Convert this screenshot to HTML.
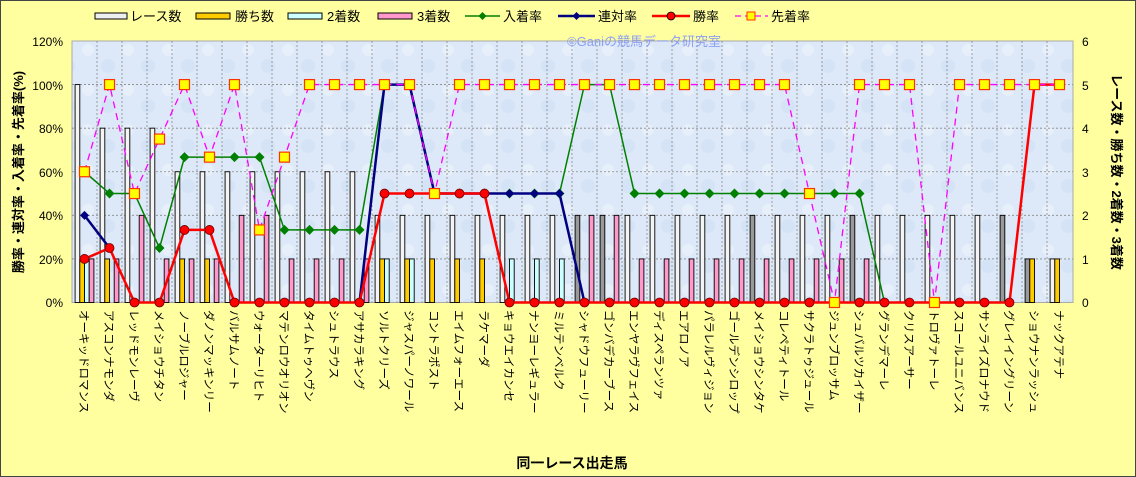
<!DOCTYPE html>
<html><head><meta charset="utf-8"><style>
html,body{margin:0;padding:0;background:#ffffa0}
svg{display:block;font-family:"Liberation Sans","Noto Sans CJK JP",sans-serif}
</style></head><body>
<svg id="s" width="1136" height="477" viewBox="0 0 1136 477" xmlns="http://www.w3.org/2000/svg">
<defs>
<pattern id="tex" width="40" height="40" patternUnits="userSpaceOnUse">
<rect width="40" height="40" fill="#dde9f8"/>
<circle cx="8" cy="10" r="6" fill="#e6effa"/><circle cx="28" cy="26" r="7" fill="#d4e3f5"/>
</pattern>
</defs>
<rect x="0.5" y="0.5" width="1135" height="476" fill="#ffffa0" stroke="#444" stroke-width="1"/>
<rect x="72" y="41" width="1001" height="261.5" fill="url(#tex)" stroke="#aaa"/>
<g id="grid"></g>
<g id="bars"></g>
<g id="lines"></g>
<text x="567" y="46" font-size="13" fill="#8d9ff2">©Ganiの競馬データ研究室</text>
<g font-size="13" fill="#000">
<rect x="95" y="13" width="32" height="6" fill="#eee" stroke="#000"/><text x="130" y="21">レース数</text>
<rect x="196" y="13" width="34" height="6" fill="#ffcc00" stroke="#000"/><text x="235" y="21">勝ち数</text>
<rect x="288" y="13" width="34" height="6" fill="#ccffff" stroke="#000"/><text x="327" y="21">2着数</text>
<rect x="378" y="13" width="34" height="6" fill="#ff99cc" stroke="#000"/><text x="417" y="21">3着数</text>
<line x1="465" y1="16" x2="500" y2="16" stroke="#008000" stroke-width="1.5"/><path d="M482.5 12 L486.5 16 L482.5 20 L478.5 16Z" fill="#008000"/><text x="503" y="21">入着率</text>
<line x1="558" y1="16" x2="595" y2="16" stroke="#000080" stroke-width="2.5"/><path d="M576.5 12 L580.5 16 L576.5 20 L572.5 16Z" fill="#000080"/><text x="598" y="21">連対率</text>
<line x1="652" y1="16" x2="690" y2="16" stroke="#ff0000" stroke-width="2.5"/><circle cx="671" cy="16" r="4" fill="#ff0000" stroke="#000" stroke-width="0.8"/><text x="693" y="21">勝率</text>
<line x1="735" y1="16" x2="768" y2="16" stroke="#ff00ff" stroke-width="1.2" stroke-dasharray="6,4"/><rect x="747" y="12" width="8" height="8" fill="#ffff00" stroke="#ff3300"/><text x="771" y="21">先着率</text>
</g>
<g font-size="12" text-anchor="end">
<text x="63" y="46">120%</text><text x="63" y="90">100%</text><text x="63" y="133">80%</text><text x="63" y="177">60%</text><text x="63" y="220">40%</text><text x="63" y="264">20%</text><text x="63" y="307">0%</text>
</g>
<g font-size="12">
<text x="1082" y="46">6</text><text x="1082" y="90">5</text><text x="1082" y="133">4</text><text x="1082" y="177">3</text><text x="1082" y="220">2</text><text x="1082" y="264">1</text><text x="1082" y="307">0</text>
</g>
<text transform="translate(23,172) rotate(-90)" font-size="13" font-weight="bold" text-anchor="middle">勝率・連対率・入着率・先着率(%)</text>
<text transform="translate(1112,172) rotate(90)" font-size="13" font-weight="bold" text-anchor="middle">レース数・勝ち数・2着数・3着数</text>
<text x="572" y="468" font-size="14" font-weight="bold" text-anchor="middle">同一レース出走馬</text>
<g font-size="11.5">
<text transform="translate(80,310) rotate(90)">オーキッドロマンス</text>
<text transform="translate(105,310) rotate(90)">アスコンナモンダ</text>
<text transform="translate(130,310) rotate(90)">レッドモンレーヴ</text>
<text transform="translate(155,310) rotate(90)">メイショウチタン</text>
<text transform="translate(180,310) rotate(90)">ノーブルロジャー</text>
<text transform="translate(205,310) rotate(90)">ダノンマッキンリー</text>
<text transform="translate(230,310) rotate(90)">バルサムノート</text>
<text transform="translate(255,310) rotate(90)">ウォーターリヒト</text>
<text transform="translate(280,310) rotate(90)">マテンロウオリオン</text>
<text transform="translate(305,310) rotate(90)">タイムトゥヘヴン</text>
<text transform="translate(330,310) rotate(90)">シュトラウス</text>
<text transform="translate(355,310) rotate(90)">アサカラキング</text>
<text transform="translate(380,310) rotate(90)">ソルトクリーズ</text>
<text transform="translate(405,310) rotate(90)">ジャスパーノワール</text>
<text transform="translate(430,310) rotate(90)">コントラポスト</text>
<text transform="translate(455,310) rotate(90)">エイムフォーエース</text>
<text transform="translate(480,310) rotate(90)">ラケマーダ</text>
<text transform="translate(505,310) rotate(90)">キョウエイカンセ</text>
<text transform="translate(530,310) rotate(90)">ナンヨーレギュラー</text>
<text transform="translate(555,310) rotate(90)">ミルテンベルク</text>
<text transform="translate(580,310) rotate(90)">シャドウフューリー</text>
<text transform="translate(605,310) rotate(90)">ゴンバデカーブース</text>
<text transform="translate(630,310) rotate(90)">エンヤラヴフェイス</text>
<text transform="translate(655,310) rotate(90)">ディスペランツァ</text>
<text transform="translate(680,310) rotate(90)">エアロノア</text>
<text transform="translate(705,310) rotate(90)">パラレルヴィジョン</text>
<text transform="translate(730,310) rotate(90)">ゴールデンシロップ</text>
<text transform="translate(755,310) rotate(90)">メイショウシンタケ</text>
<text transform="translate(780,310) rotate(90)">コレペティトール</text>
<text transform="translate(805,310) rotate(90)">サクラトゥジュール</text>
<text transform="translate(830,310) rotate(90)">ジュンブロッサム</text>
<text transform="translate(855,310) rotate(90)">シュバルツカイザー</text>
<text transform="translate(880,310) rotate(90)">グランデマーレ</text>
<text transform="translate(905,310) rotate(90)">クリスアーサー</text>
<text transform="translate(930,310) rotate(90)">トロヴァトーレ</text>
<text transform="translate(955,310) rotate(90)">スコールユニバンス</text>
<text transform="translate(980,310) rotate(90)">サンライズロナウド</text>
<text transform="translate(1005,310) rotate(90)">グレイイングリーン</text>
<text transform="translate(1030,310) rotate(90)">ショウナンラッシュ</text>
<text transform="translate(1055,310) rotate(90)">ナックアテナ</text>
</g>
</svg>
<script>
var NS="http://www.w3.org/2000/svg";
function el(p,t,a){var e=document.createElementNS(NS,t);for(var k in a)e.setAttribute(k,a[k]);document.getElementById(p).appendChild(e);return e;}
var L=72,T=41,B=302.5,W=25,H=261.5;
function yP(v){return B-v*H/120;}
function yC(c){return B-c*H/6;}
for(var i=1;i<6;i++){var y=T+i*H/6;el("grid","line",{x1:L,x2:1073,y1:y,y2:y,stroke:"#888","stroke-dasharray":"2,2","stroke-width":"0.8"});}
for(var i=1;i<40;i++){var x=L+i*W;el("grid","line",{x1:x,x2:x,y1:T,y2:B,stroke:"#888","stroke-dasharray":"2,2","stroke-width":"0.8"});}
var race=[5,4,4,4,3,3,3,3,3,3,3,3,2,2,2,2,2,2,2,2,2,2,2,2,2,2,2,2,2,2,2,2,2,2,2,2,2,2,1,1];
var win=[1,1,0,0,1,1,0,0,0,0,0,0,1,1,1,1,1,0,0,0,0,0,0,0,0,0,0,0,0,0,0,0,0,0,0,0,0,0,1,1];
var sec=[1,0,0,0,0,0,0,0,0,0,0,0,1,1,0,0,0,1,1,1,0,0,0,0,0,0,0,0,0,0,0,0,0,0,0,0,0,0,0,0];
var thr=[1,1,2,1,1,1,2,2,1,1,1,1,0,0,0,0,0,0,0,0,2,2,1,1,1,1,1,1,1,1,1,1,0,0,0,0,0,0,0,0];
var gray={20:1,21:1,27:1,31:1,37:1,38:1};
var bw=4.7,off=3.1;
for(var i=0;i<40;i++){
 var x0=L+i*W+off;
 var ser=[[race[i],gray[i]?"#999":"#f4f4f4"],[win[i],"#ffcc00"],[sec[i],"#ccffff"],[thr[i],"#ff99cc"]];
 for(var j=0;j<4;j++){var c=ser[j][0];if(c>0)el("bars","rect",{x:x0+j*bw,y:yC(c),width:bw,height:B-yC(c),fill:ser[j][1],stroke:"#000","stroke-width":"0.9"});}
}
var green=[60,50,50,25,66.7,66.7,66.7,66.7,33.3,33.3,33.3,33.3,100,100,50,50,50,50,50,50,100,100,50,50,50,50,50,50,50,50,50,50,0];
var blue=[40,25,null,null,null,null,null,null,null,null,null,0,100,100,50,50,50,50,50,50,0];
var red=[20,25,0,0,33.3,33.3,0,0,0,0,0,0,50,50,50,50,50,0,0,0,0,0,0,0,0,0,0,0,0,0,0,0,0,0,0,0,0,0,100,100];
var pink=[60,100,50,75,100,66.7,100,33.3,66.7,100,100,100,100,100,50,100,100,100,100,100,100,100,100,100,100,100,100,100,100,50,0,100,100,100,0,100,100,100,100,100];
function cx(i){return L+W*(i+0.5);}
function segs(a){var out=[],cur=[];a.forEach(function(v,i){if(v===null){if(cur.length)out.push(cur);cur=[];}else cur.push(cx(i)+","+yP(v));});if(cur.length)out.push(cur);return out;}
segs(green).forEach(function(s){el("lines","polyline",{points:s.join(" "),fill:"none",stroke:"#008000","stroke-width":"1.5"});});
green.forEach(function(v,i){var x=cx(i),y=yP(v);el("lines","path",{d:"M"+x+" "+(y-5)+"L"+(x+5)+" "+y+"L"+x+" "+(y+5)+"L"+(x-5)+" "+y+"Z",fill:"#008000"});});
segs(blue).forEach(function(s){el("lines","polyline",{points:s.join(" "),fill:"none",stroke:"#000080","stroke-width":"2.5"});});
blue.forEach(function(v,i){if(v===null)return;var x=cx(i),y=yP(v);el("lines","path",{d:"M"+x+" "+(y-4.5)+"L"+(x+4.5)+" "+y+"L"+x+" "+(y+4.5)+"L"+(x-4.5)+" "+y+"Z",fill:"#000080"});});
segs(red).forEach(function(s){el("lines","polyline",{points:s.join(" "),fill:"none",stroke:"#ff0000","stroke-width":"2.5"});});
red.forEach(function(v,i){el("lines","circle",{cx:cx(i),cy:yP(v),r:4.5,fill:"#ff0000",stroke:"#600","stroke-width":"0.8"});});
segs(pink).forEach(function(s){el("lines","polyline",{points:s.join(" "),fill:"none",stroke:"#ff00ff","stroke-width":"1.3","stroke-dasharray":"7,5"});});
pink.forEach(function(v,i){el("lines","rect",{x:cx(i)-5,y:yP(v)-5,width:10,height:10,fill:"#ffff00",stroke:"#ff3300","stroke-width":"1.2"});});
</script>
</body></html>
